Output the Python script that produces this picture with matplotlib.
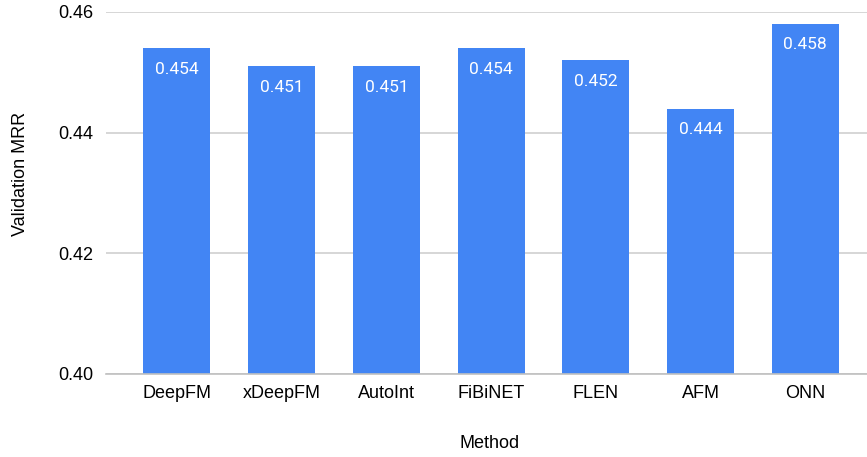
import matplotlib.pyplot as plt
import numpy as np

methods = ["DeepFM", "xDeepFM", "AutoInt", "FiBiNET", "FLEN", "AFM", "ONN"]
mrr = [0.454, 0.451, 0.451, 0.454, 0.452, 0.444, 0.458]
yticks = [0.40, 0.42, 0.44, 0.46]

fig = plt.figure(figsize=(8.67, 4.57), dpi=100)
ax = fig.add_axes([106 / 867, 83 / 457, 761 / 867, 362 / 457])

x = np.arange(len(methods))
bars = ax.bar(x, mrr, width=0.64, color="#4285f4", zorder=3)

for xi, v in zip(x, mrr):
    ax.annotate(f"{v:.3f}", (xi, v), xytext=(0, -15), textcoords="offset points",
                ha="center", va="center", color="white", fontsize=12.5,
                family="Roboto", zorder=4)

ax.set_ylim(0.40, 0.46)
ax.set_xlim(-0.678, 6.59)
ax.set_yticks(yticks)
ax.set_yticklabels([f"{t:.2f}" for t in yticks], family="Liberation Sans", fontsize=13)
ax.set_xticks(x)
ax.set_xticklabels(methods, family="Liberation Sans", fontsize=13)
ax.tick_params(length=0, pad=8)
ax.tick_params(axis="y", pad=9)

ax.grid(axis="y", color="#d0d0d0", linewidth=1.2, zorder=0)
for s in ["top", "right", "left"]:
    ax.spines[s].set_visible(False)
ax.spines["bottom"].set_color("#c0c0c0")
ax.spines["bottom"].set_linewidth(1.2)
ax.spines["bottom"].set_zorder(5)

fig.text(21 / 867, 1 - 174 / 457, "Validation MRR", rotation=90, ha="center",
         va="center", family="Liberation Sans", fontsize=13)
fig.text(490 / 867, 1 - 443 / 457, "Method", ha="center", va="center",
         family="Liberation Sans", fontsize=13)

fig.savefig("out.png", dpi=100)
